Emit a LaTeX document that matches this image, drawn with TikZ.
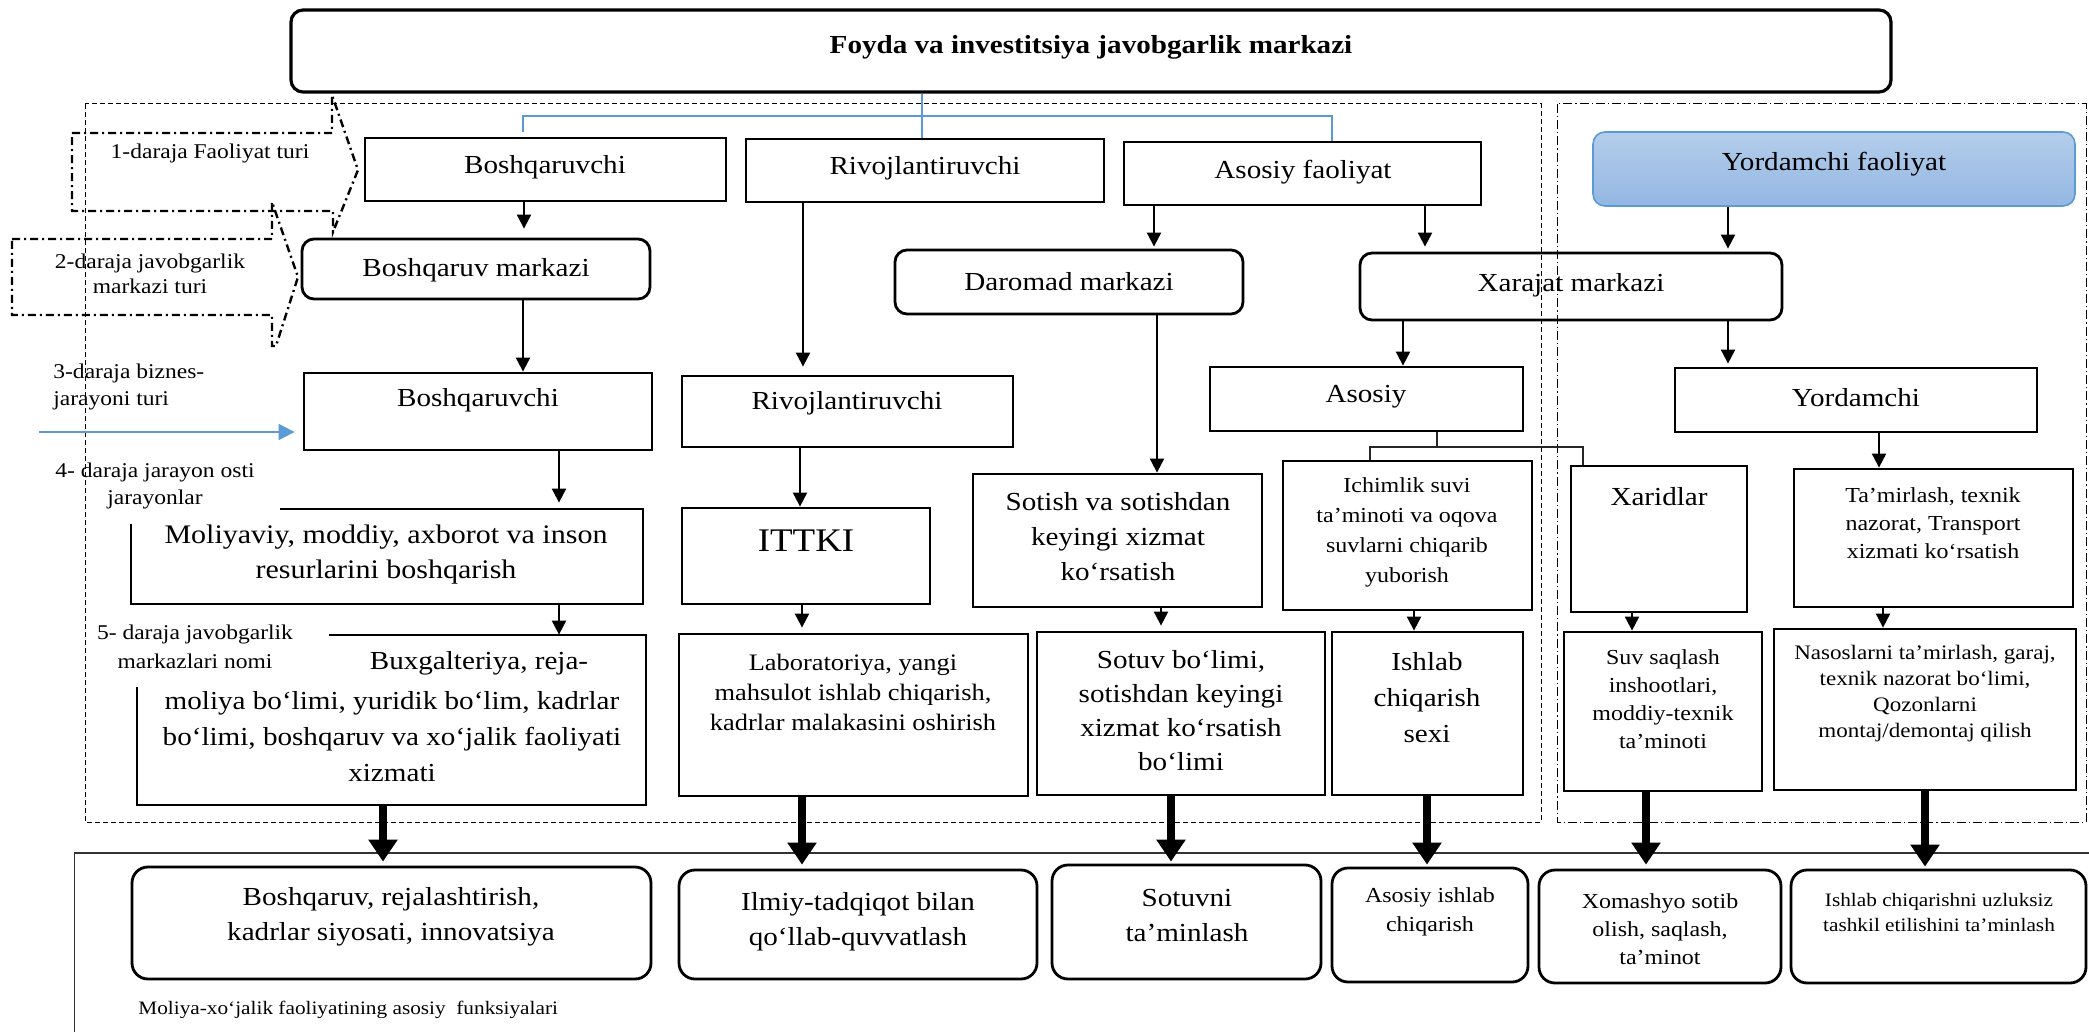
\documentclass[tikz,border=0pt]{standalone}
\usepackage{fontspec}
\setmainfont{Liberation Serif}[FakeStretch=1.12]
\usetikzlibrary{arrows.meta,fit}
\definecolor{lineblue}{HTML}{5B9BD5}
\definecolor{fillblueA}{HTML}{B4CDEB}
\definecolor{fillblueB}{HTML}{93B7E2}

\begin{document}
\begin{tikzpicture}[x=0.5pt,y=-0.5pt,
  sq/.style={draw, line width=1.4pt, inner sep=0pt},
  rnd/.style={sq, rounded corners=6pt},
  rndb/.style={sq, rounded corners=8pt},
  yf/.style={draw=lineblue, line width=0.8pt, rounded corners=6pt, inner sep=0pt,
    top color=fillblueA, bottom color=fillblueB},
  hollow/.style={inner sep=0pt},
  outline/.style={line width=1.4pt},
  t/.style={align=center, inner sep=0pt, font=\fontsize{13}{17.5}\selectfont},
  tbig/.style={align=center, inner sep=0pt, font=\fontsize{16.5}{19}\selectfont},
  tsm/.style={align=center, inner sep=0pt, font=\fontsize{10.7}{14.5}\selectfont},
  tlab/.style={align=center, inner sep=0pt, font=\fontsize{11.8}{15}\selectfont},
  txs/.style={align=center, inner sep=0pt, font=\fontsize{9.5}{12.5}\selectfont},
  ann/.style={align=center, inner sep=0pt, font=\fontsize{10.5}{13.5}\selectfont},
  arr/.style={line width=1pt, -{Triangle[length=7pt,width=7pt]}},
  bigarr/.style={line width=4pt, -{Triangle[length=11pt,width=14pt]}},
  bluearr/.style={draw=lineblue, line width=1pt, -{Triangle[length=8pt,width=8pt]}},
  tree/.style={line width=0.6pt, black!85},
  callout/.style={line width=1.2pt, dash pattern=on 4pt off 2pt on 1pt off 2pt},
  dashreg/.style={line width=0.5pt, dash pattern=on 2.5pt off 1.5pt},
  dotreg/.style={line width=0.5pt, dash pattern=on 4.5pt off 1.5pt on 0.6pt off 1.5pt},
]
\useasboundingbox (0,0) rectangle (2089,1032);

% ---- regions and frame ----
\draw[dashreg] (85,104) rectangle (1541,822);
\draw[dotreg] (1557,104) rectangle (2086,822);
\draw[line width=0.6pt, black!80] (2089,853) -- (74.5,853) -- (74.5,1032);

% ---- top centre ----
\node[rnd, line width=1.6pt, fit={(291,10) (1891,92)}] (top) {};
\node[t, font=\bfseries\fontsize{13}{16}\selectfont] (topt) at (1091,47) {Foyda va investitsiya javobgarlik markazi};

% ---- level 1 ----
\node[sq, fit={(365,138) (726,201)}] (B1) {};
\node[t] (B1t) at (545,167) {Boshqaruvchi};
\node[sq, fit={(746,139) (1104,202)}] (R1) {};
\node[t] (R1t) at (925,168) {Rivojlantiruvchi};
\node[sq, fit={(1124,142) (1481,205)}] (AF) {};
\node[t] (AFt) at (1303,172) {Asosiy faoliyat};
\node[yf, fit={(1593,132) (2075,206)}] (YF) {};
\node[t] (YFt) at (1834,164) {Yordamchi faoliyat};

% ---- level 2 ----
\node[rnd, fit={(302,239) (650,299)}] (BM) {};
\node[t] (BMt) at (476,270) {Boshqaruv markazi};
\node[rnd, fit={(895,250) (1243,314)}] (DM) {};
\node[t] (DMt) at (1069,282) {Daromad markazi};
\node[rnd, fit={(1360,253) (1782,320)}] (XM) {};
\node[t] (XMt) at (1571,285) {Xarajat markazi};

% ---- level 3 ----
\node[sq, fit={(304,373) (652,450)}] (B3) {};
\node[t] (B3t) at (478,400) {Boshqaruvchi};
\node[sq, fit={(682,376) (1013,447)}] (R3) {};
\node[t] (R3t) at (847,403) {Rivojlantiruvchi};
\node[sq, fit={(1210,367) (1523,431)}] (AS) {};
\node[t] (ASt) at (1366,397) {Asosiy};
\node[sq, fit={(1675,368) (2037,432)}] (YR) {};
\node[t] (YRt) at (1856,398) {Yordamchi};

% ---- level 4 ----
\node[hollow, fit={(131,509) (643,604)}] (MV) {};
\draw[outline] (280,509) -- (643,509) -- (643,604) -- (131,604) -- (131,524);
\node[t, font=\fontsize{13.4}{17.5}\selectfont] (MVt) at (386,555) {Moliyaviy, moddiy, axborot va inson\\resurlarini boshqarish};
\node[sq, fit={(682,508) (930,604)}] (IT) {};
\node[tbig] (ITt) at (806,541) {ITTKI};
\node[sq, fit={(973,474) (1262,607)}] (SO) {};
\node[t] (SOt) at (1118,537) {Sotish va sotishdan\\keyingi xizmat\\ko‘rsatish};
\node[sq, fit={(1283,461) (1532,610)}] (IS) {};
\node[tsm, font=\fontsize{10.7}{15}\selectfont] (ISt) at (1407,532) {Ichimlik suvi\\ta’minoti va oqova\\suvlarni chiqarib\\yuborish};
\node[sq, fit={(1571,466) (1747,612)}] (XR) {};
\node[t] (XRt) at (1659,497) {Xaridlar};
\node[sq, fit={(1794,469) (2073,607)}] (TM) {};
\node[tsm, font=\fontsize{10.7}{14}\selectfont] (TMt) at (1933,523) {Ta’mirlash, texnik\\nazorat, Transport\\xizmati ko‘rsatish};

% ---- level 5 ----
\node[hollow, fit={(137,635) (646,805)}] (BX) {};
\draw[outline] (329,635) -- (646,635) -- (646,805) -- (137,805) -- (137,687);
\node[t] (BXa) at (479,663) {Buxgalteriya, reja-};
\node[t, font=\fontsize{13}{18}\selectfont] (BXb) at (392,737) {moliya bo‘limi, yuridik bo‘lim, kadrlar\\bo‘limi, boshqaruv va xo‘jalik faoliyati\\xizmati};
\node[sq, fit={(679,634) (1028,796)}] (LB) {};
\node[tlab] (LBt) at (853,692) {Laboratoriya, yangi\\mahsulot ishlab chiqarish,\\kadrlar malakasini oshirish};
\node[sq, fit={(1037,632) (1325,795)}] (SV) {};
\node[t, font=\fontsize{13}{17}\selectfont] (SVt) at (1181,711) {Sotuv bo‘limi,\\sotishdan keyingi\\xizmat ko‘rsatish\\bo‘limi};
\node[sq, fit={(1332,632) (1523,795)}] (ISX) {};
\node[t, font=\fontsize{13}{18}\selectfont] (ISXt) at (1427,698) {Ishlab\\chiqarish\\sexi};
\node[sq, fit={(1564,632) (1762,791)}] (SS) {};
\node[tsm, font=\fontsize{10.7}{14}\selectfont] (SSt) at (1663,699) {Suv saqlash\\inshootlari,\\moddiy-texnik\\ta’minoti};
\node[sq, fit={(1774,629) (2076,790)}] (NS) {};
\node[tsm, font=\fontsize{10.3}{13}\selectfont] (NSt) at (1925,694) {Nasoslarni ta’mirlash, garaj,\\texnik nazorat bo‘limi,\\Qozonlarni\\montaj/demontaj qilish};

% ---- main functions ----
\node[rndb, fit={(132,867) (651,979)}] (BR) {};
\node[t] (BRt) at (391,917) {Boshqaruv, rejalashtirish,\\kadrlar siyosati, innovatsiya};
\node[rndb, fit={(679,870) (1037,979)}] (IL) {};
\node[t] (ILt) at (858,922) {Ilmiy-tadqiqot bilan\\qo‘llab-quvvatlash};
\node[rndb, fit={(1052,865) (1321,979)}] (SVN) {};
\node[t] (SVNt) at (1187,916) {Sotuvni\\ta’minlash};
\node[rndb, fit={(1332,868) (1528,982)}] (AIC) {};
\node[tsm] (AICt) at (1430,912) {Asosiy ishlab\\chiqarish};
\node[rndb, fit={(1539,870) (1781,983)}] (XO) {};
\node[tsm, font=\fontsize{10.7}{14}\selectfont] (XOt) at (1660,929) {Xomashyo sotib\\olish, saqlash,\\ta’minot};
\node[rndb, fit={(1791,870) (2086,983)}] (IC) {};
\node[txs] (ICt) at (1939,912) {Ishlab chiqarishni uzluksiz\\tashkil etilishini ta’minlash};

% ---- side labels ----
\draw[callout] (72,133) -- (332,133) -- (332,95) -- (358,170) -- (333,232) -- (333,211) -- (72,211) -- cycle;
\draw[callout] (12,239) -- (272,239) -- (272,202) -- (298,277) -- (276,346) -- (272,346) -- (272,315) -- (12,315) -- cycle;
\node[ann] (L1) at (210,153) {1-daraja Faoliyat turi};
\node[ann, font=\fontsize{10.5}{12.5}\selectfont] (L2) at (150,274) {2-daraja javobgarlik\\markazi turi};
\node[ann, anchor=west, align=left] (L3) at (53,387) {3-daraja biznes-\\jarayoni turi};
\node[ann] (L4) at (155,486) {4- daraja jarayon osti\\jarayonlar};
\node[ann, font=\fontsize{10.5}{14.5}\selectfont] (L5) at (195,647) {5- daraja javobgarlik\\markazlari nomi};
\node[ann, font=\fontsize{9.5}{12}\selectfont, anchor=west] (L6) at (138,1010) {Moliya-xo‘jalik faoliyatining asosiy\ \ funksiyalari};

% ---- connector positions ----
\coordinate (bj) at (922,116);
\coordinate (bl) at (523,116);
\coordinate (br) at (1332,116);
\coordinate (ba) at (39,432);
\coordinate (ja) at (1437,447);
\coordinate (jl) at (1370,447);
\coordinate (jr) at (1583,447);
\coordinate (c1) at (524,0);
\coordinate (c2) at (523,0);
\coordinate (c3) at (803,0);
\coordinate (c4) at (1154,0);
\coordinate (c5) at (1425,0);
\coordinate (c6) at (1728,0);
\coordinate (c7) at (1157,0);
\coordinate (c8) at (1403,0);
\coordinate (c9) at (559,0);
\coordinate (c10) at (800,0);
\coordinate (c11) at (802,0);
\coordinate (c12) at (1161,0);
\coordinate (c13) at (1414,0);
\coordinate (c14) at (1632,0);
\coordinate (c15) at (1879,0);
\coordinate (c16) at (1883,0);
\coordinate (d1) at (383,0);
\coordinate (d2) at (802,0);
\coordinate (d3) at (1171,0);
\coordinate (d4) at (1427,0);
\coordinate (d5) at (1646,0);
\coordinate (d6) at (1925,0);

% ---- blue branching from the top ----
\draw[draw=lineblue, line width=1.1pt] (top.south -| bj) -- (R1.north -| bj);
\draw[draw=lineblue, line width=0.6pt, shorten <=2.5pt] (B1.north -| bl) -- (bl) -- (br) -- (AF.north -| br);
\draw[bluearr, shorten >=4pt] (ba) -- (ba -| B3.west);

% ---- thin arrows ----
\draw[arr, shorten >=4.5pt] (B1.south -| c1) -- (BM.north -| c1);
\draw[arr] (BM.south -| c2) -- (B3.north -| c2);
\draw[arr, shorten >=4pt] (R1.south -| c3) -- (R3.north -| c3);
\draw[arr, shorten >=1pt] (AF.south -| c4) -- (DM.north -| c4);
\draw[arr, shorten >=2.5pt] (AF.south -| c5) -- (XM.north -| c5);
\draw[arr, shorten >=1.5pt] (YF.south -| c6) -- (XM.north -| c6);
\draw[arr] (DM.south -| c7) -- (SO.north -| c7);
\draw[arr] (XM.south -| c8) -- (AS.north -| c8);
\draw[arr, shorten >=1.5pt] (XM.south -| c6) -- (YR.north -| c6);
\draw[arr, shorten >=3pt] (B3.south -| c9) -- (MV.north -| c9);
\draw[arr] (R3.south -| c10) -- (IT.north -| c10);
\draw[arr] (MV.south -| c9) -- (BX.north -| c9);
\draw[arr, shorten >=2.5pt] (IT.south -| c11) -- (LB.north -| c11);
\draw[arr, shorten >=2.5pt] (SO.south -| c12) -- (SV.north -| c12);
\draw[arr] (IS.south -| c13) -- (ISX.north -| c13);
\draw[arr] (XR.south -| c14) -- (SS.north -| c14);
\draw[arr] (YR.south -| c15) -- (TM.north -| c15);
\draw[arr] (TM.south -| c16) -- (NS.north -| c16);

% ---- branching under Asosiy ----
\draw[tree] (AS.south -| ja) -- (ja);
\draw[tree] (IS.north -| jl) -- (jl) -- (jr) -- (XR.north -| jr);

% ---- thick arrows to the main functions ----
\draw[bigarr, shorten >=2pt] (BX.south -| d1) -- (BR.north -| d1);
\draw[bigarr, shorten >=2pt] (LB.south -| d2) -- (IL.north -| d2);
\draw[bigarr, shorten >=1pt] (SV.south -| d3) -- (SVN.north -| d3);
\draw[bigarr, shorten >=1pt] (ISX.south -| d4) -- (AIC.north -| d4);
\draw[bigarr, shorten >=2pt] (SS.south -| d5) -- (XO.north -| d5);
\draw[bigarr, shorten >=1pt] (NS.south -| d6) -- (IC.north -| d6);
\end{tikzpicture}
\end{document}
